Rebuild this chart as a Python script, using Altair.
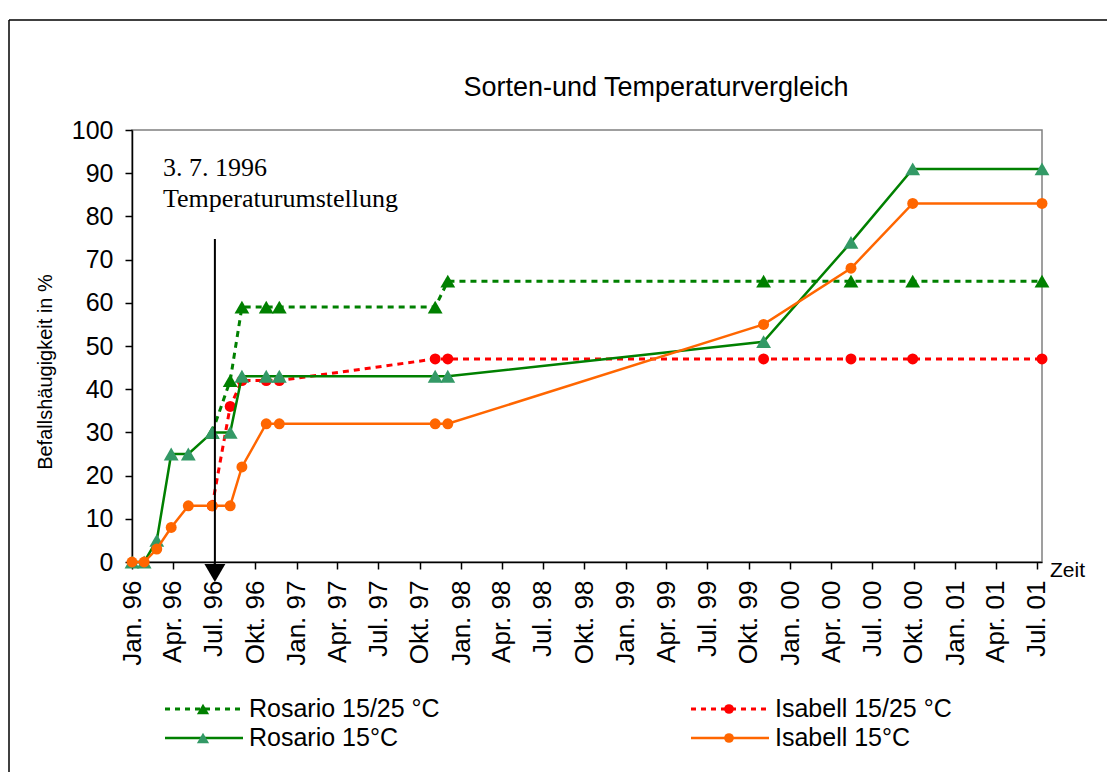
import altair as alt
import pandas as pd

# Messtermine (Boniturdaten) und Befallshäufigkeit in %
dates = ["1996-01-01", "1996-01-28", "1996-02-25", "1996-03-28", "1996-05-05",
         "1996-06-27", "1996-08-06", "1996-09-01", "1996-10-25", "1996-11-23",
         "1997-11-04", "1997-12-02", "1999-11-03", "2000-05-15", "2000-09-29",
         "2001-07-13"]
rosario_15 = [0, 0, 5, 25, 25, 30, 30, 43, 43, 43, 43, 43, 51, 74, 91, 91]
isabell_15 = [0, 0, 3, 8, 13, 13, 13, 22, 32, 32, 32, 32, 55, 68, 83, 83]

# 15/25 °C series start at the last reading before the temperature switch
dates_1525 = dates[5:]
rosario_1525 = [30, 42, 59, 59, 59, 59, 65, 65, 65, 65, 65]
isabell_1525 = [13, 36, 42, 42, 42, 47, 47, 47, 47, 47, 47]

switch_date = "1996-07-03"

tick_labels = ["Jan. 96", "Apr. 96", "Jul. 96", "Okt. 96",
               "Jan. 97", "Apr. 97", "Jul. 97", "Okt. 97",
               "Jan. 98", "Apr. 98", "Jul. 98", "Okt. 98",
               "Jan. 99", "Apr. 99", "Jul. 99", "Okt. 99",
               "Jan. 00", "Apr. 00", "Jul. 00", "Okt. 00",
               "Jan. 01", "Apr. 01", "Jul. 01"]
tick_dates = ["1996-01-01", "1996-04-01", "1996-07-01", "1996-10-01",
              "1997-01-01", "1997-04-01", "1997-07-01", "1997-10-01",
              "1998-01-01", "1998-04-01", "1998-07-01", "1998-10-01",
              "1999-01-01", "1999-04-01", "1999-07-01", "1999-10-01",
              "2000-01-01", "2000-04-01", "2000-07-01", "2000-10-01",
              "2001-01-01", "2001-04-01", "2001-07-01"]

ORIGIN = pd.Timestamp("1996-01-01")


def to_days(ds):
    return [int((pd.Timestamp(d) - ORIGIN).days) for d in ds]


tick_days = to_days(tick_dates)
label_expr = "[{}][indexof([{}], datum.value)]".format(
    ", ".join("'{}'".format(t) for t in tick_labels),
    ", ".join(str(d) for d in tick_days),
)

SANS = "Liberation Sans"
SERIF = "Liberation Serif"

W, H = 910, 432
LEFT, TOP = 132, 130

x_scale = alt.Scale(domain=[0, to_days([dates[-1]])[0]], nice=False, zero=False)
y_scale = alt.Scale(domain=[0, 100], nice=False)

x_axis = alt.Axis(values=tick_days, labelExpr=label_expr, labelAngle=270,
                  labelFont=SANS, labelFontSize=26, labelColor="black",
                  labelPadding=11, tickSize=7, labelOverlap=False,
                  labelFlush=False, labelBound=False, grid=False)
y_axis = alt.Axis(values=list(range(0, 101, 10)), labelFont=SANS,
                  labelFontSize=25, labelColor="black", labelPadding=12,
                  tickSize=7, grid=False)

X = alt.X("tag:Q", scale=x_scale, axis=x_axis, title=None)
Y = alt.Y("wert:Q", scale=y_scale, axis=y_axis, title=None)

series = [
    # name, dates, values, line colour, marker colour, shape, dashed
    ("Rosario 15/25 °C", dates_1525, rosario_1525, "#008000", "#008000", "triangle-up", True),
    ("Isabell 15/25 °C", dates_1525, isabell_1525, "#FF0000", "#FF0000", "circle", True),
    ("Rosario 15°C", dates, rosario_15, "#008000", "#339966", "triangle-up", False),
    ("Isabell 15°C", dates, isabell_15, "#FF6600", "#FF6600", "circle", False),
]

DASH = [6, 5]
layers = []
for name, ds, vals, lc, mc, shape, dashed in series:
    df = pd.DataFrame({"tag": to_days(ds), "wert": vals})
    line_kw = dict(color=lc, strokeWidth=3 if dashed else 2.5, strokeCap="butt")
    if dashed:
        line_kw["strokeDash"] = DASH
    layers.append(alt.Chart(df).mark_line(**line_kw).encode(x=X, y=Y))
    layers.append(
        alt.Chart(df).mark_point(shape=shape, filled=True, opacity=1, strokeWidth=0,
                                 color=mc, size=220 if shape != "circle" else 120)
        .encode(x=X, y=Y)
    )

# Pfeil zur Temperaturumstellung
arrow_df = pd.DataFrame({"tag": to_days([switch_date]), "wert": [0]})
layers.append(
    alt.Chart(arrow_df).mark_rule(color="black", strokeWidth=2)
    .encode(x=X, y=alt.value(239 - TOP), y2=alt.value(566 - TOP))
)
layers.append(
    alt.Chart(arrow_df).mark_point(shape="triangle-down", filled=True, opacity=1,
                                   strokeWidth=0, color="black", size=440)
    .encode(x=X, y=alt.value(573 - TOP))
)

one = pd.DataFrame({"n": [0]})


def label(text, x, y, size, font=SANS, align="left", baseline="alphabetic", angle=0):
    kw = dict(text=text, font=font, fontSize=size, color="black",
              align=align, baseline=baseline)
    if angle:
        kw["angle"] = angle
    return alt.Chart(one).mark_text(**kw).encode(
        x=alt.value(x - LEFT), y=alt.value(y - TOP))


layers += [
    label("Sorten-und Temperaturvergleich", 656, 96, 27, align="center"),
    label("Befallshäugigkeit in %", 46, 372, 20, align="center",
          baseline="middle", angle=270),
    label("Zeit", 1050, 577, 21),
    label("3. 7. 1996", 163, 176, 26, font=SERIF),
    label("Temperaturumstellung", 163, 207, 26, font=SERIF),
]

# Legende in zwei Spalten
legend_pos = [(165, 709, 717), (691, 709, 717), (165, 738, 746), (691, 738, 746)]
for (name, ds, vals, lc, mc, shape, dashed), (lx, ly, tb) in zip(series, legend_pos):
    rule_kw = dict(color=lc, strokeWidth=3 if dashed else 2.5, strokeCap="butt")
    if dashed:
        rule_kw["strokeDash"] = [5, 5]
    layers.append(
        alt.Chart(one).mark_rule(**rule_kw).encode(
            x=alt.value(lx - LEFT), x2=alt.value(lx + 78 - LEFT),
            y=alt.value(ly - TOP))
    )
    layers.append(
        alt.Chart(one).mark_point(shape=shape, filled=True, opacity=1, strokeWidth=0,
                                  color=mc, size=150 if shape != "circle" else 95)
        .encode(x=alt.value(lx + 38 - LEFT), y=alt.value(ly - TOP))
    )
    layers.append(label(name, lx + 84, tb, 25))

# Rahmen um das Diagramm
layers.append(
    alt.Chart(one).mark_rule(color="black", strokeWidth=1.5).encode(
        x=alt.value(9 - LEFT), y=alt.value(20 - TOP), y2=alt.value(790 - TOP))
)
layers.append(
    alt.Chart(one).mark_rule(color="black", strokeWidth=1.5).encode(
        x=alt.value(9 - LEFT), x2=alt.value(1120 - LEFT), y=alt.value(20 - TOP))
)

chart = (
    alt.layer(*layers)
    .properties(
        width=W, height=H,
        autosize=alt.AutoSizeParams(type="none"),
        padding={"left": LEFT, "top": TOP, "right": 1107 - LEFT - W,
                 "bottom": 772 - TOP - H},
        background="white",
    )
    .configure_view(stroke="#808080", strokeWidth=1.5)
    .configure_axis(domainColor="black", domainWidth=1.5, tickColor="black",
                    tickWidth=1.5)
)

chart.save("out.html", embed_options={"renderer": "svg", "actions": False})
